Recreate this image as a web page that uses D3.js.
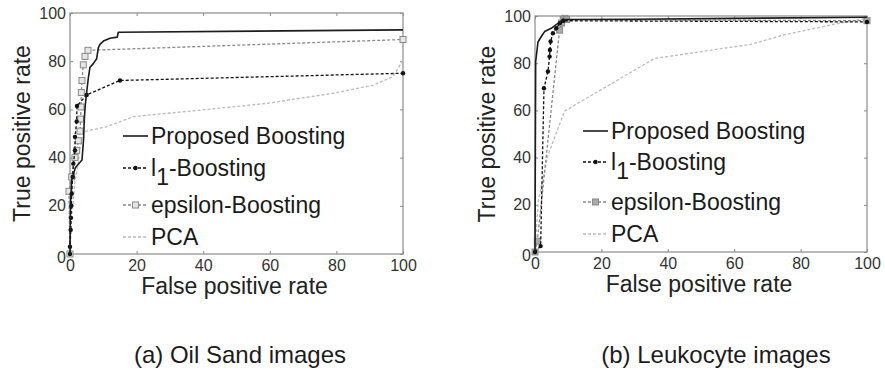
<!DOCTYPE html>
<head>
<meta charset="utf-8">
<title>ROC curves</title>
<style>
  body { margin: 0; background: #fff; }
  svg { font-family: "Liberation Sans", Arial, sans-serif; }
  .tick text { font-family: "Liberation Sans", Arial, sans-serif; font-size: 16px; fill: #333; }
  .lab { font-size: 23px; fill: #222; }
  .leg { font-size: 23px; fill: #1a1a1a; }
  .cap { font-size: 24px; fill: #1e1a22; }
</style>
</head>
<body>
<script src="https://d3js.org/d3.v7.min.js"></script>
<script>
// ticks shared by both panels
const ticks = [0, 20, 40, 60, 80, 100];
const seriesNames = ["Proposed Boosting", "l1-Boosting", "epsilon-Boosting", "PCA"];
const captions = ["(a) Oil Sand images", "(b) Leukocyte images"];

// (a) oil sand, [fpr, tpr]
const oilProposed = [[0,0],[0,3],[0.2,22],[0.5,30.5],[1.6,35.8],[3.6,39],[4.1,48],[4.3,56],[4.6,62],[5,67],[5.5,73],[6,77.5],[7,79],[8,81],[8.5,85.5],[9,87],[10.2,88.5],[12,89.5],[14.2,90],[14.5,92],[100,93]];
const oilL1 = [[0,0],[0,3],[0.2,10],[0.3,15],[0.4,20],[0.5,25],[0.8,32],[1,37.5],[1.5,43],[1.5,48.6],[2,55],[2.1,61.4],[5,66],[15,72],[100,75]];
const oilEps = [[0,0],[-0.3,26],[0.5,32],[1.5,40],[2,43],[2.5,47],[3,51],[3.2,56],[3.3,61],[3.4,67],[3.6,72],[4,78.5],[4.5,82],[5.4,84.5],[100,89]];
const oilPca = [[0,0],[0.5,15],[1.5,30],[2.5,38],[3,44],[4,50.7],[11,52.8],[19,57],[39,59.7],[59,62.5],[79,66.7],[91,70],[97,73.6],[98.5,77],[100,80.5],[100,100]];

// (b) leukocyte, [fpr, tpr]
const leukProposed = [[0,0],[0.2,80.7],[0.9,89],[1.9,91.3],[2.9,93.4],[4.9,94.8],[6.9,96.9],[8.4,98.5],[30,98.6],[60,99],[100,99.5]];
const leukL1 = [[0,0],[1.7,2.5],[2.7,69.4],[3.9,76.5],[4.4,82.8],[4.5,85.6],[4.7,89.2],[5.4,92.7],[6.4,94.8],[7.5,97],[8.5,98],[100,97.5]];
const leukEps = [[0,0],[0.7,4.6],[7.4,94],[8,97],[8.5,98.5],[9,99],[9.5,98.5],[100,98]];
const leukPca = [[0,0],[1,22],[3.9,41],[8.9,59.7],[36,82],[65,88],[75,92],[90,96.5],[100,99]];

const styles = [
  {stroke: "#1c1c1c", width: 1.6, dash: null, marker: null},
  {stroke: "#111", width: 1.3, dash: "3,2", marker: "dot"},
  {stroke: "#888", width: 1.3, dash: "3,2", marker: "square"},
  {stroke: "#bbb", width: 1.3, dash: "3,2", marker: null}
];

const panels = [
  {box: {l: 70, r: 403, t: 13, b: 254}, series: [oilProposed, oilL1, oilEps, oilPca],
   legX: 123, legBase: [144, 176, 213, 245], ylabX: 22, capX: 240},
  {box: {l: 535, r: 867, t: 16, b: 252}, series: [leukProposed, leukL1, leukEps, leukPca],
   legX: 583, legBase: [139, 170, 210, 242], ylabX: 487, capX: 716}
];

const svg = d3.select("body").append("svg").attr("width", 885).attr("height", 374);

panels.forEach((p, pi) => {
  const x = d3.scaleLinear().domain([0, 100]).range([p.box.l, p.box.r]);
  const y = d3.scaleLinear().domain([0, 100]).range([p.box.b, p.box.t]);
  const g = svg.append("g");

  // frame
  g.append("rect").attr("x", p.box.l).attr("y", p.box.t)
    .attr("width", p.box.r - p.box.l).attr("height", p.box.b - p.box.t)
    .attr("fill", "none").attr("stroke", "#8a8a8a").attr("stroke-width", 1.2);

  const xa = g.append("g").attr("transform", `translate(0,${p.box.b})`)
    .call(d3.axisBottom(x).tickValues(ticks).tickSize(-3).tickPadding(6));
  const xt = g.append("g").attr("transform", `translate(0,${p.box.t})`)
    .call(d3.axisTop(x).tickValues(ticks).tickSize(-3).tickFormat(""));
  const ya = g.append("g").attr("transform", `translate(${p.box.l},0)`)
    .call(d3.axisLeft(y).tickValues(ticks).tickSize(-3).tickPadding(4));
  const yr = g.append("g").attr("transform", `translate(${p.box.r},0)`)
    .call(d3.axisRight(y).tickValues(ticks).tickSize(-3).tickFormat(""));
  [xa, xt, ya, yr].forEach(a => {
    a.select(".domain").remove();
    a.selectAll("line").attr("stroke", "#8a8a8a");
  });
  ya.selectAll(".tick text").filter(d => d === 0).attr("dy", "0.55em");

  // axis labels
  g.append("text").attr("class", "lab").attr("text-anchor", "middle")
    .attr("x", (p.box.l + p.box.r) / 2 - 2).attr("y", p.box.b + 40)
    .text("False positive rate");
  g.append("text").attr("class", "lab").attr("text-anchor", "middle")
    .attr("transform", `translate(${p.ylabX},${(p.box.t + p.box.b) / 2}) rotate(-90)`)
    .attr("dy", "0.35em")
    .text("True positive rate");

  // curves, drawn back to front
  const line = d3.line().x(d => x(d[0])).y(d => y(d[1]));
  [3, 2, 1, 0].forEach(si => {
    const st = styles[si];
    const data = p.series[si];
    g.append("path").datum(data).attr("d", line)
      .attr("fill", "none").attr("stroke", st.stroke)
      .attr("stroke-width", st.width).attr("stroke-dasharray", st.dash)
      .attr("stroke-linejoin", "round");
    if (st.marker === "dot") {
      g.selectAll(null).data(data).join("circle")
        .attr("cx", d => x(d[0])).attr("cy", d => y(d[1])).attr("r", 2.2)
        .attr("fill", "#111");
    } else if (st.marker === "square") {
      g.selectAll(null).data(data).join("rect")
        .attr("x", d => x(d[0]) - 3).attr("y", d => y(d[1]) - 3)
        .attr("width", 6).attr("height", 6)
        .attr("fill", pi === 1 ? "#aaa" : "#e6e6e6").attr("stroke", "#8a8a8a").attr("stroke-width", 1);
    }
  });

  // legend
  seriesNames.forEach((name, si) => {
    const st = styles[si];
    const ly = p.legBase[si] - 8;
    g.append("line").attr("x1", p.legX).attr("x2", p.legX + 25)
      .attr("y1", ly).attr("y2", ly)
      .attr("stroke", st.stroke).attr("stroke-width", st.width)
      .attr("stroke-dasharray", st.dash);
    if (st.marker === "dot") {
      g.append("circle").attr("cx", p.legX + 12.5).attr("cy", ly).attr("r", 2.2).attr("fill", "#111");
    } else if (st.marker === "square") {
      g.append("rect").attr("x", p.legX + 9.5).attr("y", ly - 3).attr("width", 6).attr("height", 6)
        .attr("fill", pi === 1 ? "#aaa" : "#e6e6e6").attr("stroke", "#8a8a8a");
    }
    const t = g.append("text").attr("class", "leg").attr("x", p.legX + 28).attr("y", p.legBase[si]);
    if (si === 1) {
      t.append("tspan").text("l");
      t.append("tspan").attr("dy", 9).text("1");
      t.append("tspan").attr("dy", -9).text("-Boosting");
    } else {
      t.text(name);
    }
  });

  // caption
  svg.append("text").attr("class", "cap").attr("text-anchor", "middle")
    .attr("x", p.capX).attr("y", 363).text(captions[pi]);
});
</script>
</body>
